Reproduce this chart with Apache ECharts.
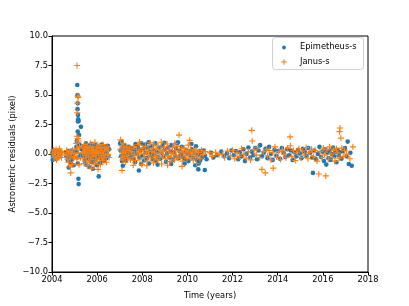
<!DOCTYPE html>
<html><head><meta charset="utf-8">
<script src="https://cdn.jsdelivr.net/npm/echarts@6/dist/echarts.min.js"></script>
<style>html,body{margin:0;padding:0;background:#fff}#c{width:409px;height:306px}</style>
</head><body><div id="c"></div>
<script>
const seriesNames = ['Epimetheus-s', 'Janus-s'];
const xTicks = [2004, 2006, 2008, 2010, 2012, 2014, 2016, 2018];
const yTicks = [-10, -7.5, -5, -2.5, 0, 2.5, 5, 7.5, 10];

const epimetheusPoints = [
[2004.02,0.12],[2004.04,-0.18],[2004.06,0.25],[2004.08,-0.35],[2004.10,0.05],[2004.12,0.3],[2004.14,-0.1],[2004.16,0.18],[2004.18,-0.42],[2004.20,0.0],[2004.22,0.22],[2004.24,-0.25],[2004.27,0.1],[2004.30,-0.05],[2004.33,0.28],[2004.36,-0.2],[2004.39,0.15],[2004.03,-0.5],
[2004.62,0.15],[2004.64,-0.2],[2004.67,0.05],[2004.70,-0.55],[2004.72,0.25],[2004.74,-1.15],[2004.77,-0.3],[2004.80,0.1],[2004.82,-0.75],[2004.85,-0.1],[2004.88,0.3],[2004.90,-0.45],[2004.93,0.0],[2004.96,-0.95],[2004.98,0.2],
[2005.12,5.85],[2005.13,5.0],[2005.14,4.3],[2005.13,3.8],[2005.15,3.3],[2005.16,2.95],[2005.15,2.75],[2005.18,2.8],[2005.28,2.3],[2005.14,1.9],[2005.2,1.6],[2005.1,1.1],[2005.08,0.6],[2005.1,0.2],[2005.12,-0.3],[2005.15,-0.8],[2005.17,-2.1],[2005.18,-2.55],[2005.22,0.8],[2005.25,-0.1],[2005.3,0.4],
[2005.38,0.3],[2005.40,-0.2],[2005.42,0.6],[2005.45,-0.6],[2005.47,0.1],[2005.50,0.9],[2005.52,-0.9],[2005.55,0.35],[2005.57,-0.35],[2005.60,0.0],[2005.62,0.7],[2005.64,-1.1],[2005.66,0.2],[2005.68,-0.5],[2005.70,0.45],[2005.72,-0.15],[2005.75,0.85],[2005.77,-0.7],[2005.79,0.1],[2005.81,-1.25],[2005.83,0.5],[2005.85,-0.25],[2005.87,0.3],[2005.89,-0.6],[2005.91,0.05],[2005.93,0.75],[2005.95,-0.4],[2005.97,0.25],[2005.99,-0.95],[2006.01,0.4],[2006.03,-0.1],[2006.05,0.6],[2006.07,-1.9],[2006.09,-0.3],[2006.11,0.15],[2006.13,-0.75],[2006.15,0.5],[2006.17,0.0],[2006.19,-0.45],[2006.21,0.8],[2006.23,0.2],[2006.25,-0.2],[2006.27,0.55],[2006.30,-0.6],[2006.32,0.3],[2006.35,-0.05],[2006.38,0.65],[2006.41,-0.35],[2006.44,0.2],[2006.47,0.7],[2006.50,-0.15],[2006.53,0.4],
[2007.02,0.9],[2007.04,0.3],[2007.06,-0.2],[2007.08,1.05],[2007.10,-0.6],[2007.12,0.5],[2007.14,-1.0],[2007.16,0.1],[2007.18,-0.4],[2007.20,0.7],[2007.22,-0.15],[2007.25,0.25],[2007.28,-0.55],[2007.31,0.45],[2007.34,-0.3],[2007.37,0.1],[2007.40,0.6],[2007.43,-0.2],[2007.46,0.3],
[2007.52,-0.1],[2007.56,0.5],[2007.60,-0.4],[2007.64,0.2],[2007.68,-0.7],[2007.72,0.35],[2007.76,0.0],[2007.80,0.6],[2007.85,-1.4],[2007.88,-0.3],[2007.92,0.3],[2007.96,0.9],[2008.00,-0.15],[2008.04,0.45],[2008.08,-0.55],[2008.12,0.8],[2008.16,0.1],[2008.20,-0.35],[2008.25,0.55],[2008.30,-0.8],[2008.34,0.2],[2008.38,-0.1],[2008.42,0.65],[2008.46,-0.45],[2008.50,0.3],[2008.54,0.0],[2008.58,0.9],[2008.62,-0.6],[2008.66,0.15],[2008.70,-0.25],[2008.75,0.5],[2008.80,-0.4],[2008.85,0.1],[2008.90,0.7],[2008.95,-0.2],[2009.00,0.35],[2009.05,-0.65],[2009.10,0.05],[2009.15,0.55],[2009.20,-0.3],[2009.25,0.2],[2009.30,0.75],[2009.35,-0.5],[2009.40,0.1],[2009.45,-0.15],[2009.50,0.45],[2009.55,0.9],[2009.60,-0.35],[2009.65,0.25],[2009.70,-0.05],[2009.75,0.6],[2009.80,-0.25],[2009.85,0.15],[2009.90,-0.45],[2009.95,0.3],[2010.00,0.0],[2010.05,-0.6],[2010.10,0.2],[2010.15,-0.2],[2010.20,0.4],[2010.25,-0.35],[2010.30,0.1],[2010.38,0.65],[2010.42,-0.5],[2010.45,-0.1],[2010.48,-1.3],[2010.50,-0.8],[2010.53,0.25],[2010.56,-0.55],[2010.60,0.05],[2010.65,-0.3],[2010.72,0.3],[2010.77,-1.36],[2010.78,-0.15],[2010.85,-0.45],
[2007.70,0.85],[2007.95,-0.85],[2008.28,1.0],[2008.68,-0.9],[2008.98,0.95],[2009.28,-0.85],[2009.58,1.0],[2009.88,-0.8],[2010.18,0.85],[2010.35,-0.95],
[2011.05,0.1],[2011.15,-0.3],[2011.30,-0.1],[2011.50,0.2],[2011.62,-0.2],[2011.75,0.05],[2011.85,-0.35],[2011.95,0.3],[2012.05,-0.1],[2012.15,0.25],[2012.25,-0.45],[2012.32,0.15],[2012.40,-0.2],[2012.48,0.4],[2012.55,-0.6],[2012.62,0.0],[2012.70,0.55],[2012.78,-0.3],[2012.85,0.2],[2012.92,-0.1],[2013.00,0.5],[2013.08,-0.45],[2013.15,0.3],[2013.22,0.75],[2013.30,-0.2],[2013.38,0.1],[2013.46,0.45],[2013.55,-0.35],[2013.62,0.6],[2013.70,0.0],[2013.78,-0.5],[2013.86,0.35],[2013.94,-0.15],[2014.02,0.25],[2014.10,-0.4],[2014.18,0.5],[2014.26,0.1],[2014.34,-0.25],[2014.42,0.4],[2014.50,-0.1],[2014.58,0.3],[2014.66,-0.5],[2014.74,0.15],[2014.82,-0.2],[2014.90,0.35],[2014.98,0.05],[2015.05,-0.35],[2015.12,0.45],[2015.20,0.2],[2015.28,-0.15],[2015.36,0.5],[2015.44,0.1],[2015.52,-0.3],[2015.56,-1.6],[2015.62,0.3],[2015.70,-0.45],[2015.78,0.0],[2015.85,0.6],[2015.92,-0.25],[2016.00,0.2],[2016.05,-0.6],[2016.10,0.4],[2016.15,-0.9],[2016.20,0.1],[2016.25,-0.35],[2016.30,0.3],[2016.35,-0.5],[2016.40,0.0],[2016.45,0.55],[2016.50,-0.2],[2016.55,0.2],[2016.60,-0.7],[2016.65,0.35],[2016.70,-0.1],[2016.75,0.15],[2016.82,-0.4],[2016.90,0.25],[2016.98,0.5],[2017.05,-0.2],[2017.10,1.05],[2017.15,-0.85],[2017.22,0.1],[2017.28,-1.0]
];

const janusPoints = [
[2004.03,0.0],[2004.06,0.35],[2004.09,-0.3],[2004.12,0.15],[2004.15,-0.15],[2004.18,0.4],[2004.21,-0.35],[2004.24,0.05],[2004.27,0.25],[2004.30,-0.25],[2004.33,0.45],[2004.36,-0.05],[2004.39,0.2],[2004.42,-0.3],[2004.44,0.1],[2004.20,-0.5],
[2004.62,-0.1],[2004.65,0.3],[2004.68,-0.45],[2004.71,0.1],[2004.74,-0.7],[2004.77,0.2],[2004.80,-0.25],[2004.83,-1.6],[2004.86,0.05],[2004.89,-0.9],[2004.92,0.35],[2004.95,-0.4],[2004.98,0.0],[2005.02,-0.2],[2004.80,-1.1],
[2005.11,7.5],[2005.14,4.9],[2005.16,4.8],[2005.13,4.3],[2005.12,3.5],[2005.10,1.5],[2005.15,1.3],[2005.18,1.1],[2005.08,0.9],[2005.12,0.5],[2005.16,0.1],[2005.10,-0.4],[2005.20,-0.9],[2005.22,0.6],[2005.26,-0.3],
[2005.36,0.1],[2005.38,-0.4],[2005.40,0.5],[2005.42,-0.8],[2005.44,0.2],[2005.46,0.8],[2005.48,-0.15],[2005.50,0.35],[2005.52,-0.6],[2005.54,0.0],[2005.56,0.65],[2005.58,-1.0],[2005.60,0.25],[2005.62,-0.3],[2005.64,0.5],[2005.66,-0.7],[2005.68,0.1],[2005.70,0.9],[2005.72,-0.45],[2005.74,0.3],[2005.76,-1.2],[2005.78,0.0],[2005.80,0.55],[2005.82,-0.2],[2005.84,0.4],[2005.86,-0.85],[2005.88,0.15],[2005.90,1.0],[2005.92,-0.5],[2005.94,0.2],[2005.96,-0.1],[2005.98,0.6],[2006.00,-0.65],[2006.02,0.3],[2006.04,-1.3],[2006.06,0.05],[2006.08,0.7],[2006.10,-0.35],[2006.12,0.45],[2006.14,-0.9],[2006.16,0.1],[2006.18,0.55],[2006.20,-0.25],[2006.22,0.3],[2006.24,-0.55],[2006.26,0.8],[2006.28,0.0],[2006.30,-0.4],[2006.32,0.5],[2006.35,-0.15],[2006.38,0.25],[2006.41,-0.7],[2006.44,0.6],[2006.47,-0.05],[2006.50,0.35],[2006.53,-0.3],
[2007.02,0.4],[2007.04,1.2],[2007.06,-0.3],[2007.08,0.7],[2007.10,-1.4],[2007.12,0.1],[2007.14,-0.5],[2007.16,0.9],[2007.18,0.25],[2007.20,-0.2],[2007.22,0.55],[2007.25,-0.7],[2007.28,0.15],[2007.31,0.6],[2007.34,-0.35],[2007.37,0.3],[2007.40,-0.1],[2007.44,0.45],[2007.48,-0.5],
[2007.54,0.2],[2007.58,-0.3],[2007.62,0.6],[2007.66,0.0],[2007.70,-0.55],[2007.74,0.4],[2007.78,-0.15],[2007.82,0.8],[2007.86,0.1],[2007.90,-0.45],[2007.94,0.3],[2007.98,-0.9],[2008.02,0.5],[2008.06,0.0],[2008.10,-0.3],[2008.14,0.65],[2008.18,0.15],[2008.22,-0.6],[2008.26,0.35],[2008.30,-0.1],[2008.34,0.95],[2008.38,-0.4],[2008.42,0.2],[2008.46,0.5],[2008.50,-0.75],[2008.54,0.1],[2008.58,-0.2],[2008.62,0.45],[2008.66,-0.5],[2008.70,0.7],[2008.74,0.05],[2008.78,-0.3],[2008.82,0.35],[2008.86,-0.85],[2008.90,0.2],[2008.94,-0.1],[2008.98,0.6],[2009.02,-0.4],[2009.06,0.25],[2009.10,0.85],[2009.14,-0.2],[2009.18,0.4],[2009.22,-0.65],[2009.26,0.1],[2009.30,-0.3],[2009.34,0.55],[2009.38,0.0],[2009.42,-0.5],[2009.46,0.3],[2009.50,-0.1],[2009.54,0.65],[2009.58,-0.35],[2009.63,1.6],[2009.66,0.2],[2009.70,-0.25],[2009.74,0.45],[2009.78,-0.6],[2009.82,0.1],[2009.86,0.5],[2009.90,-0.15],[2009.94,0.3],[2009.98,-0.4],[2010.02,0.2],[2010.06,-0.1],[2010.10,1.15],[2010.14,0.4],[2010.18,-0.3],[2010.22,0.1],[2010.26,-0.5],[2010.30,0.25],[2010.34,-0.15],[2010.38,0.35],[2010.44,-0.25],[2010.50,0.15],[2010.56,-0.4],[2010.62,0.3],[2010.70,-0.05],[2010.80,0.2],
[2007.60,-0.95],[2007.88,1.0],[2008.20,-1.0],[2008.52,0.85],[2008.84,1.0],[2009.12,-0.95],[2009.44,0.9],[2009.76,-1.05],[2010.04,0.75],[2010.40,-0.8],
[2011.00,0.1],[2011.10,-0.2],[2011.25,0.15],[2011.40,-0.05],[2011.55,0.0],[2011.65,-0.3],[2011.78,0.25],[2011.90,-0.15],[2012.00,0.3],[2012.10,-0.4],[2012.20,0.1],[2012.30,-0.2],[2012.40,0.45],[2012.50,0.0],[2012.60,-0.35],[2012.70,0.2],[2012.85,2.0],[2012.87,1.1],[2012.80,-0.5],[2012.95,0.35],[2013.05,-0.1],[2013.12,0.55],[2013.20,-0.3],[2013.30,-1.3],[2013.36,0.2],[2013.45,-1.6],[2013.50,0.4],[2013.55,-0.15],[2013.62,0.3],[2013.70,-0.5],[2013.78,0.1],[2013.80,-1.2],[2013.88,0.6],[2013.95,-0.25],[2014.05,0.2],[2014.12,-0.45],[2014.20,0.35],[2014.28,0.0],[2014.36,-0.3],[2014.44,0.5],[2014.55,1.45],[2014.56,0.7],[2014.62,-0.2],[2014.70,0.3],[2014.78,-0.55],[2014.86,0.1],[2014.94,0.45],[2015.02,-0.3],[2015.10,0.25],[2015.18,-0.1],[2015.26,0.55],[2015.34,-0.4],[2015.42,0.15],[2015.50,0.4],[2015.58,-0.2],[2015.66,0.3],[2015.74,-0.6],[2015.82,-1.7],[2015.88,0.2],[2015.95,-0.3],[2016.02,0.5],[2016.08,-0.1],[2016.13,-1.85],[2016.18,0.35],[2016.24,-0.45],[2016.30,0.6],[2016.36,0.0],[2016.42,-0.3],[2016.48,0.3],[2016.54,-0.6],[2016.60,0.45],[2016.66,0.1],[2016.72,-0.35],[2016.76,2.2],[2016.74,1.9],[2016.80,1.35],[2016.84,0.5],[2016.90,-0.2],[2016.96,0.3],[2017.05,0.0],[2017.20,-0.4],[2017.33,0.6]
];

const blue = '#1f77b4', orange = '#ff7f0e';
const plusPath = 'path://M-1,-0.18 L-0.18,-0.18 L-0.18,-1 L0.18,-1 L0.18,-0.18 L1,-0.18 L1,0.18 L0.18,0.18 L0.18,1 L-0.18,1 L-0.18,0.18 L-1,0.18 Z';
const font = 'DejaVu Sans';
const fmtY = v => v.toFixed(1).replace('-', '\u2212');
const legendText = {fontFamily: font, fontSize: 8.3, color: '#000'};

const chart = echarts.init(document.getElementById('c'), null, {renderer: 'canvas'});
chart.setOption({
  animation: false,
  backgroundColor: '#fff',
  grid: {left: 52, top: 36, right: 41, bottom: 34, containLabel: false, outerBoundsMode: 'none',
         show: true, borderColor: '#000', borderWidth: 1, backgroundColor: 'transparent'},
  graphic: [
    {type: 'rect', z: 50, silent: true,
     shape: {x: 272.5, y: 37.5, width: 91, height: 32, r: 3},
     style: {fill: 'rgba(255,255,255,0.85)', stroke: '#d0d0d0', lineWidth: 1}},
    {type: 'circle', z: 55, silent: true, shape: {cx: 284, cy: 47.5, r: 1.9}, style: {fill: blue}},
    {type: 'rect', z: 55, silent: true, shape: {x: 281.2, y: 61.4, width: 5.6, height: 1.1}, style: {fill: orange}},
    {type: 'rect', z: 55, silent: true, shape: {x: 283.45, y: 59.15, width: 1.1, height: 5.6}, style: {fill: orange}}
  ],
  legend: [
    {orient: 'vertical', left: 282, top: 43, padding: 0, itemWidth: 4, itemHeight: 4, z: 60,
     itemStyle: {opacity: 0},
     textStyle: Object.assign({padding: [0, 0, 0, 9]}, legendText),
     data: [{name: seriesNames[0], icon: 'circle'}]},
    {orient: 'vertical', left: 281, top: 57.5, padding: 0, itemWidth: 6, itemHeight: 6, z: 60,
     itemStyle: {opacity: 0},
     textStyle: Object.assign({padding: [0, 0, 0, 8]}, legendText),
     data: [{name: seriesNames[1], icon: 'circle'}]}
  ],
  xAxis: {
    type: 'value', min: xTicks[0], max: xTicks[xTicks.length - 1], interval: 2,
    name: 'Time (years)', nameLocation: 'middle', nameGap: 20,
    nameTextStyle: {fontFamily: font, fontSize: 8.3, color: '#000'},
    axisLine: {onZero: false, lineStyle: {color: '#000', width: 1}},
    axisTick: {show: true, inside: false, length: 3.5, lineStyle: {color: '#000'}},
    axisLabel: {fontFamily: font, fontSize: 8.3, color: '#000', margin: 4, formatter: v => String(v)},
    splitLine: {show: false}
  },
  yAxis: {
    type: 'value', min: yTicks[0], max: yTicks[yTicks.length - 1], interval: 2.5,
    name: 'Astrometric residuals (pixel)', nameLocation: 'middle', nameGap: 35, nameMoveOverlap: false,
    nameTextStyle: {fontFamily: font, fontSize: 8.3, color: '#000'},
    axisLine: {onZero: false, lineStyle: {color: '#000', width: 1}},
    axisTick: {show: true, inside: false, length: 3.5, lineStyle: {color: '#000'}},
    axisLabel: {fontFamily: font, fontSize: 8.3, color: '#000', margin: 4, formatter: fmtY},
    splitLine: {show: false}
  },
  series: [
    {name: seriesNames[0], type: 'scatter', data: epimetheusPoints, symbol: 'circle', symbolSize: 4.6,
     itemStyle: {color: blue, opacity: 1}, z: 2},
    {name: seriesNames[1], type: 'scatter', data: janusPoints, symbol: plusPath, symbolSize: 6.2,
     itemStyle: {color: orange, opacity: 1}, z: 2}
  ]
});
</script></body></html>
